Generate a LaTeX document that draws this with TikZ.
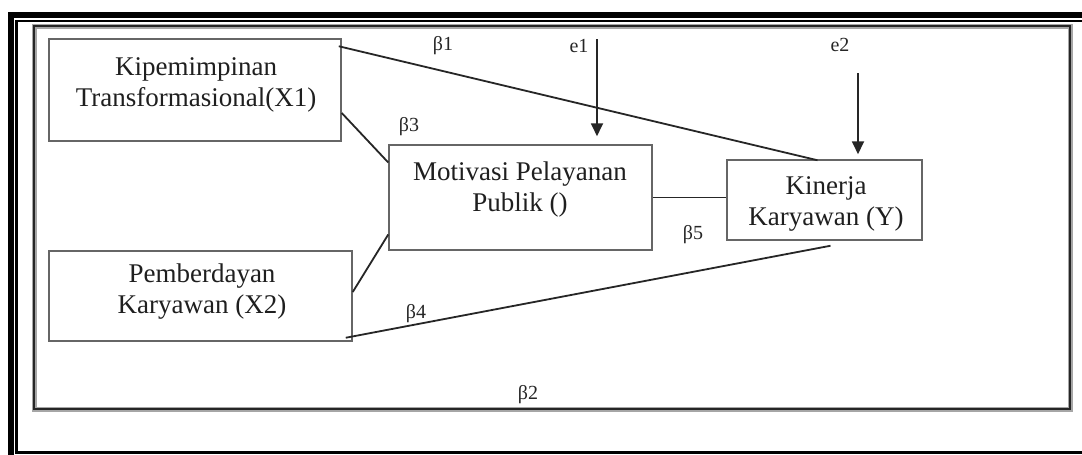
\documentclass[tikz,border=0pt]{standalone}
\usepackage{fontspec}
\setmainfont{Liberation Serif}
\usetikzlibrary{arrows.meta,calc}
\begin{document}
\begin{tikzpicture}[x=1pt,y=-1pt,
  boxframe/.style={draw=black!60, line width=1.5pt, minimum width=#1, inner sep=0pt},
  boxtext/.style={font=\fontsize{27}{30.5}\selectfont, text=black!88, align=center, inner sep=0pt},
  lbl/.style={font=\fontsize{20}{22}\selectfont, text=black!85, inner sep=0pt},
  link/.style={draw=black!85, line width=1.8pt},
  arr/.style={link, -{Triangle[length=13pt,width=12pt]}}
]
\useasboundingbox (0,0) rectangle (1082,455);
\begin{scope}
\clip (0,0) rectangle (1082,455);
\fill[white] (0,0) rectangle (1082,455);
% outer double frame
\draw[line width=6pt] (11,15) rectangle (1200,600);
\draw[line width=2.2pt] (16.5,21) rectangle (1150,452.5);
\end{scope}
% inner frame
\draw[black!35, line width=4.5pt] (34.5,26.5) rectangle (1070.5,409.5);
\draw[black!85, line width=2.4pt] (34,26) rectangle (1070,409);

% boxes
\node[boxframe=292, minimum height=102] (b1) at (195,90) {};
\node[boxframe=303, minimum height=90] (b2) at (200.5,296) {};
\node[boxframe=263, minimum height=105] (b3) at (520.5,197.5) {};
\node[boxframe=195, minimum height=80] (b4) at (824.5,200) {};

\node[boxtext] (t1) at (196,85) {Kipemimpinan\\Transformasional(X1)};
\node[boxtext] (t2) at (202,291.5) {Pemberdayan\\Karyawan (X2)};
\node[boxtext] (t3) at (520,189.5) {Motivasi Pelayanan\\Publik ()};
\node[boxtext] (t4) at (826,204) {Kinerja\\Karyawan (Y)};

% connectors
\draw[link] ($(b1.north east)+(-3,8)$) -- ($(b4.north)+(-7,1)$);
\draw[link] ($(b1.east)+(0,23)$) -- ($(b3.west)+(0,-35)$);
\draw[link] ($(b2.east)+(0,-4)$) -- ($(b3.west)+(0,37)$);
\draw[link] (b3.east) -- (b3.east -| b4.west);
\draw[link] ($(b2.south east)+(-7,-4)$) -- ($(b4.south)+(6,5)$);

% error arrows
\coordinate (e1s) at (597,39);
\coordinate (e2s) at (858,73);
\draw[arr, shorten >=8pt] (e1s) -- (e1s |- b3.north);
\draw[arr, shorten >=5pt] (e2s) -- (e2s |- b4.north);

% labels
\node[lbl] (l1) at (443,46) {β1};
\node[lbl] (le1) at (579,46) {e1};
\node[lbl] (le2) at (840,45) {e2};
\node[lbl] (l3) at (409,127) {β3};
\node[lbl] (l5) at (693,235) {β5};
\node[lbl] (l4) at (416,314) {β4};
\node[lbl] (l2) at (528,395) {β2};
\end{tikzpicture}
\end{document}
